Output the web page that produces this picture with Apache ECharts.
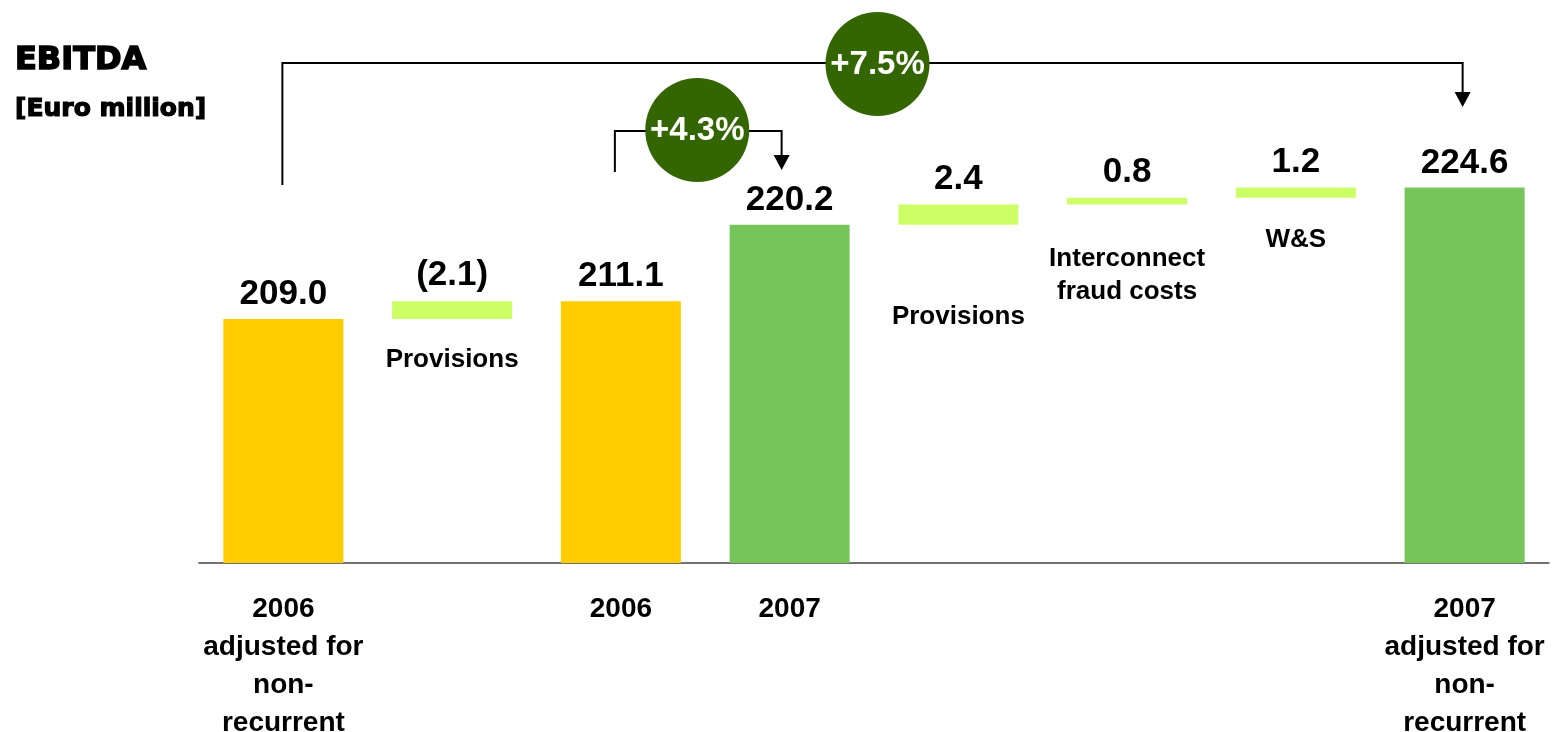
<!DOCTYPE html>
<html>
<head>
<meta charset="utf-8">
<title>EBITDA bridge</title>
<script src="https://cdn.jsdelivr.net/npm/echarts@6/dist/echarts.min.js"></script>
<style>
  html, body { margin: 0; padding: 0; background: #ffffff; }
  #chart { width: 1558px; height: 732px; }
</style>
</head>
<body>
<div id="chart"></div>
<script>
// EBITDA bridge, Euro million
const categories = [
  '2006\nadjusted for\nnon-\nrecurrent',
  'Provisions',
  '2006',
  '2007',
  'Provisions',
  'Interconnect\nfraud costs',
  'W&S',
  '2007\nadjusted for\nnon-\nrecurrent'
];
const totals  = [209.0, null, 211.1, 220.2, null, null, null, 224.6];
const changes = [null, -2.1, null, null, 2.4, 0.8, 1.2, null];

const FONT = '"Liberation Sans", Arial, Helvetica, sans-serif';
const HEAVY = '"DejaVu Sans", sans-serif';
const YELLOW = '#FFCC00';
const GREEN = '#76C55A';
const LIGHT = '#CCFF66';
const DARK = '#336600';

// Gap between each adjustment bar and its caption underneath
const captionGap = { 1: 24, 4: 76, 5: 38, 6: 26 };

// Floating bars rise from the running level by the size of each adjustment
const baseData = [];
const stepData = [];
const totalData = [];
let level = 0;
categories.forEach((name, i) => {
  if (totals[i] != null) {
    level = totals[i];
    baseData.push('-');
    stepData.push('-');
    totalData.push({
      value: totals[i],
      itemStyle: { color: name.startsWith('2006') ? YELLOW : GREEN }
    });
  } else {
    const size = Math.abs(changes[i]);
    baseData.push({ value: level, label: { distance: captionGap[i] } });
    stepData.push(size);
    totalData.push('-');
    level += size;
  }
});

const growth = (a, b) => '+' + ((totals[b] / totals[a] - 1) * 100).toFixed(1) + '%';

const chart = echarts.init(document.getElementById('chart'), null, { renderer: 'canvas' });

chart.setOption({
  animation: false,
  backgroundColor: '#ffffff',
  textStyle: { fontFamily: FONT },
  title: [
    {
      text: 'EBITDA', left: 15, top: 44, padding: 0,
      textStyle: {
        fontFamily: HEAVY, fontWeight: 'bold', fontSize: 32, lineHeight: 33, color: '#000',
        textBorderColor: '#000', textBorderWidth: 1.6
      }
    },
    {
      text: '[Euro million]', left: 15, top: 96, padding: 0,
      textStyle: {
        fontFamily: HEAVY, fontWeight: 'bold', fontSize: 25, lineHeight: 27, color: '#000',
        textBorderColor: '#000', textBorderWidth: 1.2
      }
    }
  ],
  grid: { left: 199, right: 9, top: 58, bottom: 169, containLabel: false, outerBoundsMode: 'none' },
  xAxis: {
    type: 'category',
    data: categories,
    axisLine: { lineStyle: { color: '#444', width: 1.5 } },
    axisTick: { show: false },
    axisLabel: {
      interval: 0,
      margin: 27,
      color: '#000',
      fontFamily: FONT,
      fontWeight: 'bold',
      fontSize: 28,
      lineHeight: 38,
      formatter: (value, idx) => (totals[idx] != null ? value : '')
    },
    splitLine: { show: false }
  },
  yAxis: {
    type: 'value',
    min: 180,
    max: 240,
    show: false,
    splitLine: { show: false }
  },
  series: [
    {
      name: 'base',
      type: 'bar',
      stack: 'bridge',
      barWidth: 120,
      silent: true,
      itemStyle: { color: 'transparent' },
      emphasis: { disabled: true },
      label: {
        show: true,
        position: 'insideTop',
        color: '#000',
        fontFamily: FONT,
        fontWeight: 'bold',
        fontSize: 26,
        lineHeight: 33,
        align: 'center',
        formatter: p => categories[p.dataIndex]
      },
      data: baseData
    },
    {
      name: 'adjustment',
      type: 'bar',
      stack: 'bridge',
      barWidth: 120,
      silent: true,
      itemStyle: { color: LIGHT },
      emphasis: { disabled: true },
      label: {
        show: true,
        position: 'top',
        distance: 8,
        color: '#000',
        fontFamily: FONT,
        fontWeight: 'bold',
        fontSize: 35,
        lineHeight: 35,
        formatter: p => {
          const v = changes[p.dataIndex];
          return v < 0 ? '(' + Math.abs(v).toFixed(1) + ')' : v.toFixed(1);
        }
      },
      data: stepData
    },
    {
      name: 'EBITDA',
      type: 'bar',
      stack: 'bridge',
      barWidth: 120,
      silent: true,
      emphasis: { disabled: true },
      label: {
        show: true,
        position: 'top',
        distance: 7,
        color: '#000',
        fontFamily: FONT,
        fontWeight: 'bold',
        fontSize: 35,
        lineHeight: 35,
        formatter: p => totals[p.dataIndex].toFixed(1)
      },
      data: totalData
    }
  ]
});

// Growth brackets drawn above the bars, each with its percentage badge
function bracket(fromIdx, toIdx, opts) {
  const xa = chart.convertToPixel({ xAxisIndex: 0 }, fromIdx) + opts.leftShift;
  const xb = chart.convertToPixel({ xAxisIndex: 0 }, toIdx) + opts.rightShift;
  const arrowBase = opts.arrowTipY - 15;
  const bx = (xa + xb) / 2 + opts.badgeShift;
  return [
    {
      type: 'polyline',
      z: 10,
      shape: { points: [[xa, opts.footY], [xa, opts.barY], [xb, opts.barY], [xb, arrowBase + 1]] },
      style: { stroke: '#000', lineWidth: 2, fill: null }
    },
    {
      type: 'polygon',
      z: 10,
      shape: { points: [[xb - 8, arrowBase], [xb + 8, arrowBase], [xb, opts.arrowTipY]] },
      style: { fill: '#000' }
    },
    {
      type: 'circle',
      z: 11,
      shape: { cx: bx, cy: opts.badgeY, r: 52 },
      style: { fill: DARK }
    },
    {
      type: 'text',
      z: 12,
      x: bx,
      y: opts.badgeY + 1,
      style: {
        text: growth(fromIdx, toIdx),
        fill: '#fff',
        fontFamily: FONT,
        fontWeight: 'bold',
        fontSize: 33,
        align: 'center',
        verticalAlign: 'middle'
      }
    }
  ];
}

chart.setOption({
  graphic: [
    ...bracket(0, 7, { leftShift: -1, rightShift: -2, footY: 185, barY: 63, arrowTipY: 107, badgeY: 64, badgeShift: 5 }),
    ...bracket(2, 3, { leftShift: -6, rightShift: -8, footY: 172, barY: 131, arrowTipY: 170, badgeY: 130, badgeShift: -1 })
  ]
});
</script>
</body>
</html>
